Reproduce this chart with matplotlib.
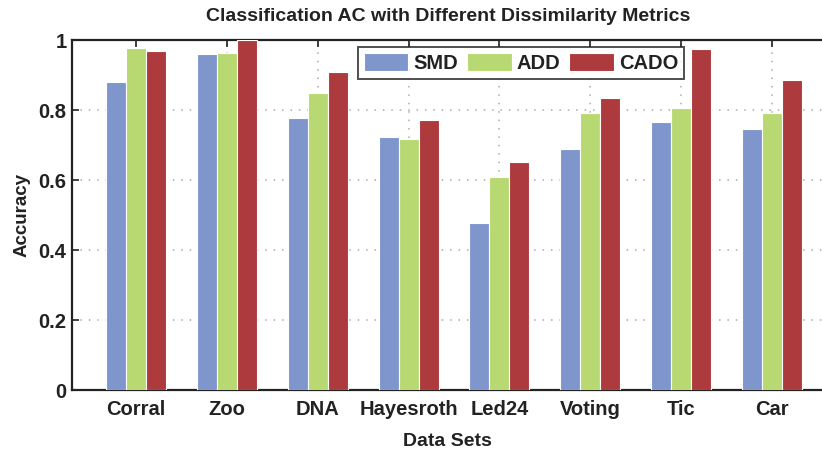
import numpy as np
import matplotlib
matplotlib.use("Agg")
import matplotlib.pyplot as plt

plt.rcParams['font.family'] = ['Liberation Sans', 'DejaVu Sans']
plt.rcParams['font.weight'] = 'bold'
plt.rcParams['axes.titleweight'] = 'bold'
plt.rcParams['axes.labelweight'] = 'bold'

datasets = ["Corral", "Zoo", "DNA", "Hayesroth", "Led24", "Voting", "Tic", "Car"]
smd = [0.880, 0.960, 0.777, 0.723, 0.477, 0.689, 0.766, 0.746]
add = [0.977, 0.963, 0.849, 0.717, 0.609, 0.791, 0.806, 0.791]
cado = [0.969, 1.000, 0.909, 0.771, 0.651, 0.834, 0.974, 0.886]

series = [("SMD", smd, "#7F96CC"), ("ADD", add, "#B8D872"), ("CADO", cado, "#AD3A3C")]
ink = '#222222'

fig = plt.figure(figsize=(8.22, 4.49), dpi=100)
ax = fig.add_axes([72 / 822, 1 - 390 / 449, 1 - 72 / 822 + 0.002, 350 / 449])

x = np.arange(len(datasets))
w = 0.22
for i, (name, vals, col) in enumerate(series):
    ax.bar(x + (i - 1) * w, vals, width=w, color=col, edgecolor='white',
           linewidth=0.8, label=name, zorder=3)

ax.set_xlim(-0.705, 7.57)
ax.set_ylim(0, 1)
ax.set_xticks(x)
ax.set_xticklabels(datasets, fontsize=14.5, color=ink)
ax.set_yticks([0, 0.2, 0.4, 0.6, 0.8, 1])
ax.set_yticklabels(["0", "0.2", "0.4", "0.6", "0.8", "1"], fontsize=14.5, color=ink)
ax.tick_params(direction='in', length=5, width=1.2, top=True, right=False, colors=ink)
ax.tick_params(axis='x', pad=7)
ax.tick_params(axis='y', pad=4)
ax.grid(True, linestyle=(0, (1, 4.5)), color='#aaaaaa', linewidth=1.1, zorder=0)
for s in ['left', 'bottom', 'top']:
    ax.spines[s].set_linewidth(1.6)
    ax.spines[s].set_color(ink)
ax.spines['right'].set_visible(False)

ax.set_xlabel("Data Sets", fontsize=14, color=ink, labelpad=10)
ax.set_ylabel("Accuracy", fontsize=13.5, color=ink, labelpad=6)
ax.set_title("Classification AC with Different Dissimilarity Metrics",
             fontsize=14, color=ink, pad=14)

leg = ax.legend(loc='upper left', bbox_to_anchor=(358 / 822, 1 - 47 / 449),
                bbox_transform=fig.transFigure, ncol=3,
                fontsize=14.5, frameon=True, fancybox=False, edgecolor=ink,
                handlelength=2.2, handleheight=1.0, handletextpad=0.25,
                columnspacing=0.45, borderpad=0.3, borderaxespad=0)
leg.get_frame().set_linewidth(1.4)
for t in leg.get_texts():
    t.set_color(ink)

fig.savefig("out.png", dpi=100)
